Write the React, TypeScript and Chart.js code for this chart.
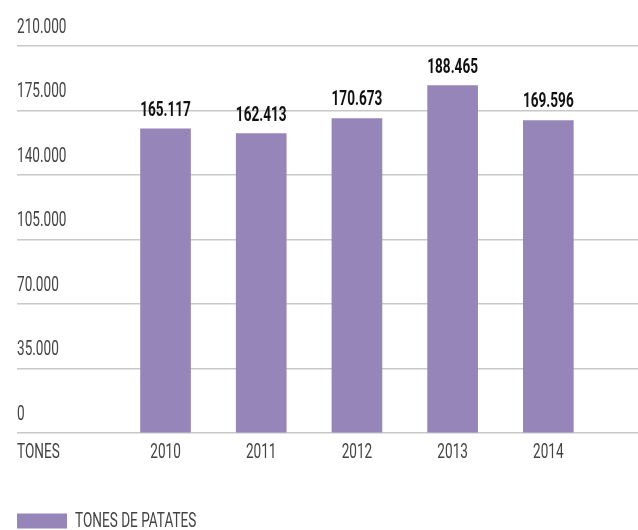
import React, { useEffect, useRef } from 'react';
import { Chart, registerables } from 'chart.js';

Chart.register(...registerables);

// ---- data ----
const years = [2010, 2011, 2012, 2013, 2014];
const tones = [165117, 162413, 170673, 188465, 169596];
const seriesLabel = 'TONES DE PATATES';
const unitLabel = 'TONES';
const yMin = 0;
const yMax = 210000;
const yStep = 35000;

// x-range of the linear year axis (positions only)
const X_MIN = 2008.448;
const X_MAX = 2014.937;
const UNIT_POS = 2008.673;

const FONT = "Roboto, 'Liberation Sans', sans-serif";
const TEXT = '#444444';
const BAR = '#9685b9';
const GRID = '#c8c8c8';
const CLEAR = 'rgba(0,0,0,0)';
const SQUEEZE = 0.68; // condensed look
const SQUEEZE_BOLD = 0.68;

const fmt = (v: number) => String(Math.round(v)).replace(/\B(?=(\d{3})+(?!\d))/g, '.');

function condensedText(
  ctx: CanvasRenderingContext2D,
  text: string,
  x: number,
  y: number,
  align: CanvasTextAlign,
  baseline: CanvasTextBaseline,
  font: string,
  color: string,
  sx: number
) {
  ctx.save();
  ctx.font = font;
  ctx.fillStyle = color;
  ctx.textAlign = align;
  ctx.textBaseline = baseline;
  ctx.translate(x, y);
  ctx.scale(sx, 1);
  ctx.fillText(text, 0, 0);
  ctx.restore();
}

const condensedLabels = {
  id: 'condensedLabels',
  afterDraw(chart: any) {
    const ctx = chart.ctx as CanvasRenderingContext2D;
    const { x, y } = chart.scales;
    const area = chart.chartArea;
    const regular = `20px ${FONT}`;
    // y tick labels, above each grid line
    y.ticks.forEach((t: any) => {
      const py = y.getPixelForValue(t.value);
      condensedText(ctx, String(t.label), area.left, py - 18.5, 'left', 'middle', regular, TEXT, SQUEEZE);
    });
    // x tick labels
    x.ticks.forEach((t: any) => {
      const isUnit = String(t.label) === unitLabel;
      const px = isUnit ? area.left : x.getPixelForValue(t.value);
      condensedText(ctx, String(t.label), px, area.bottom + 20, isUnit ? 'left' : 'center', 'middle', regular, TEXT, SQUEEZE);
    });
    // value labels above bars
    const meta = chart.getDatasetMeta(0);
    meta.data.forEach((bar: any, i: number) => {
      condensedText(ctx, fmt(tones[i]), bar.x, bar.y - 13, 'center', 'alphabetic', `bold 20px ${FONT}`, '#111111', SQUEEZE_BOLD);
    });
    // legend text
    const lg = chart.legend;
    if (lg && lg.legendHitBoxes && lg.legendHitBoxes[0]) {
      const hb = lg.legendHitBoxes[0];
      condensedText(ctx, seriesLabel, hb.left + 58, hb.top + hb.height / 2 + 1, 'left', 'middle', regular, TEXT, SQUEEZE);
    }
  },
};

export default function App() {
  const ref = useRef<HTMLCanvasElement | null>(null);

  useEffect(() => {
    if (!ref.current) return;
    const chart = new Chart(ref.current, {
      type: 'bar',
      data: {
        datasets: [
          {
            label: seriesLabel,
            data: years.map((yr, i) => ({ x: yr, y: tones[i] })),
            backgroundColor: BAR,
            borderWidth: 0,
            barThickness: 50,
          },
        ],
      },
      plugins: [condensedLabels],
      options: {
        animation: false,
        responsive: true,
        maintainAspectRatio: false,
        layout: { padding: { left: 17, right: 0, top: 46, bottom: -10 } },
        plugins: {
          legend: {
            position: 'bottom',
            align: 'start',
            labels: {
              boxWidth: 50,
              boxHeight: 15,
              padding: 0,
              color: CLEAR,
              font: { family: FONT, size: 18 },
            },
          },
          tooltip: { enabled: false },
        },
        scales: {
          x: {
            type: 'linear',
            offset: false,
            min: X_MIN,
            max: X_MAX,
            grid: { display: false, drawTicks: false },
            border: { display: false },
            afterBuildTicks: (scale: any) => {
              scale.ticks = [{ value: UNIT_POS }, ...years.map((yr) => ({ value: yr }))];
            },
            afterFit: (scale: any) => {
              scale.height = 79;
            },
            ticks: {
              autoSkip: false,
              maxRotation: 0,
              padding: 10,
              color: CLEAR,
              font: { family: FONT, size: 14 },
              callback: (v: any) => (Math.abs(v - UNIT_POS) < 0.01 ? unitLabel : String(Math.round(v))),
            },
          },
          y: {
            min: yMin,
            max: yMax,
            grid: { color: GRID, lineWidth: 1.5, drawTicks: false },
            border: { display: false },
            afterFit: (scale: any) => {
              scale.width = 0;
            },
            ticks: {
              stepSize: yStep,
              mirror: true,
              padding: 0,
              color: CLEAR,
              font: { family: FONT, size: 14 },
              callback: (v: any) => fmt(Number(v)),
            },
          },
        },
      },
    } as any);
    return () => chart.destroy();
  }, []);

  return (
    <div style={{ position: 'absolute', left: 0, top: 0, width: 638, height: 530, background: '#fff' }}>
      <canvas ref={ref} />
    </div>
  );
}
